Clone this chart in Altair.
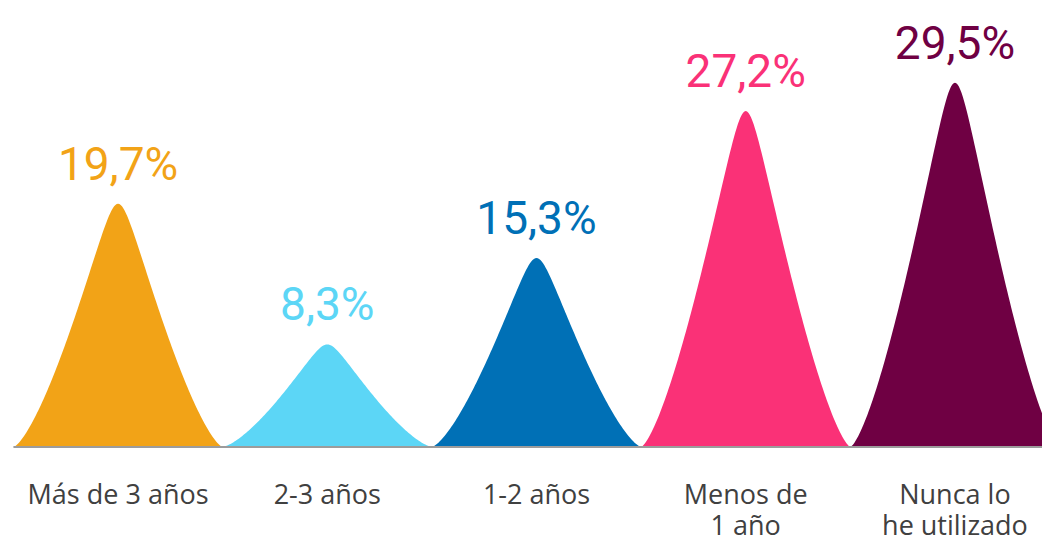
import altair as alt
import numpy as np
import pandas as pd

categories = ["Más de 3 años", "2-3 años", "1-2 años", "Menos de 1 año", "Nunca lo he utilizado"]
label_lines = ["Más de 3 años", "2-3 años", "1-2 años", "Menos de|1 año", "Nunca lo|he utilizado"]
values = [19.7, 8.3, 15.3, 27.2, 29.5]
value_text = ["19,7%", "8,3%", "15,3%", "27,2%", "29,5%"]
colors = ["#F2A317", "#5CD6F6", "#0070B6", "#FA3177", "#6F0043"]

# bell-shaped profile (geometry of the mark, scaled by each value)
t = np.linspace(-0.5, 0.5, 161)
s = np.abs(t) / 0.5
e = 0.1
r = (np.sqrt(s ** 2 + e ** 2) - e) / (np.sqrt(1 + e ** 2) - e)
profile = np.clip(1 - r, 0, 1) ** 1.41

rows = []
for i, (c, v) in enumerate(zip(categories, values)):
    for tt, p in zip(t, profile):
        rows.append({"cat": c, "x": i + tt, "y": v * p, "y0": 0.0})
bells = pd.DataFrame(rows)

labels = pd.DataFrame({
    "cat": categories,
    "pos": list(range(len(categories))),
    "value": values,
    "vtext": value_text,
    "lab": label_lines,
    "zero": [0.0] * len(categories),
})

W, H = 1034, 527
XMAX = 4.416
xs = alt.Scale(domain=[-0.526, XMAX], nice=False, zero=False)
ys = alt.Scale(domain=[-7.13, 35.55], nice=False, zero=False)
cs = alt.Scale(domain=categories, range=colors)

area = alt.Chart(bells).mark_area(clip=True, interpolate="linear").encode(
    x=alt.X("x:Q", scale=xs, axis=None),
    y=alt.Y("y:Q", scale=ys, axis=None),
    y2="y0:Q",
    color=alt.Color("cat:N", scale=cs, legend=None),
    detail="cat:N",
)

base_rule = alt.Chart(pd.DataFrame({"x0": [-0.5], "x1": [XMAX], "y0": [0.0]})).mark_rule(
    color="#9C9C9C", strokeWidth=2
).encode(
    x=alt.X("x0:Q", scale=xs, axis=None),
    x2="x1:Q",
    y=alt.Y("y0:Q", scale=ys, axis=None),
)

vals = alt.Chart(labels).mark_text(
    font="Roboto", fontSize=46, baseline="alphabetic", align="center", dy=-24,
).encode(
    x=alt.X("pos:Q", scale=xs, axis=None),
    y=alt.Y("value:Q", scale=ys, axis=None),
    text="vtext:N",
    color=alt.Color("cat:N", scale=cs, legend=None),
)

cats = alt.Chart(labels).transform_calculate(
    lines="split(datum.lab, '|')"
).mark_text(
    font="Open Sans", fontSize=27, baseline="alphabetic", align="center",
    dy=57, lineHeight=31, color="#404040",
).encode(
    x=alt.X("pos:Q", scale=xs, axis=None),
    y=alt.Y("zero:Q", scale=ys, axis=None),
    text="lines:N",
)

chart = alt.layer(area, base_rule, vals, cats).properties(
    width=W, height=H, padding=0, background="white",
    autosize=alt.AutoSizeParams(type="none"),
).configure_view(stroke=None)

chart.save("out.html", embed_options={"renderer": "svg", "actions": False})
